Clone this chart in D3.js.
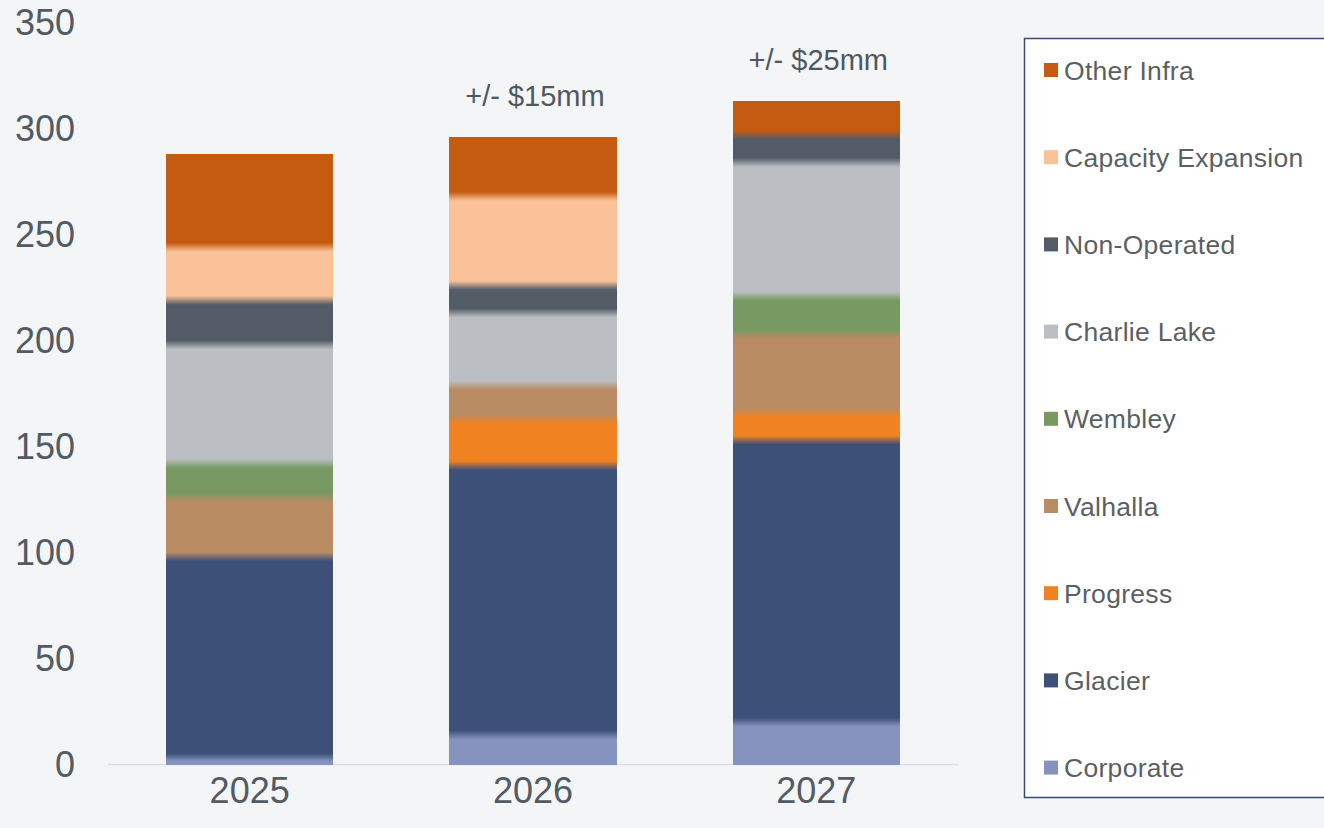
<!DOCTYPE html>
<html>
  <head>
    <meta charset="utf-8">
    <style>
      body { margin: 0; background: #f3f5f7; }
      text { font-family: "Liberation Sans", Arial, sans-serif; }
    </style>
    <script src="https://d3js.org/d3.v7.min.js"></script>
  </head>
  <body>
    <svg></svg>
    <script>
    var years = ["2025", "2026", "2027"];
    var series = ["Corporate", "Glacier", "Progress", "Valhalla", "Wembley",
                  "Charlie Lake", "Non-Operated", "Capacity Expansion", "Other Infra"];
    var colors = ["#8494be", "#3d5078", "#f08222", "#b98c64", "#789a62",
                  "#bbbfc4", "#535c66", "#f9c298", "#c55a11"];
    // values per series, one per year
    var corporate = [3, 14, 20];
    var glacier = [95, 127, 133];
    var progress = [0, 22, 13];
    var valhalla = [28, 16, 37];
    var wembley = [16, 0, 18];
    var charlieLake = [56, 34, 63];
    var nonOperated = [21, 13, 13];
    var capacityExp = [25, 42, 0];
    var otherInfra = [44, 28, 16];
    var notes = ["", "+/- $15mm", "+/- $25mm"];
    var yTicks = [0, 50, 100, 150, 200, 250, 300, 350];

    var values = [corporate, glacier, progress, valhalla, wembley,
                  charlieLake, nonOperated, capacityExp, otherInfra];

    var rows = years.map(function(yr, i) {
        var r = {year: yr};
        series.forEach(function(s, k) { r[s] = values[k][i]; });
        return r;
    });

    var svg = d3.select("svg")
        .attr("width", 1324)
        .attr("height", 828);

    svg.append("rect")
        .attr("width", 1324).attr("height", 828)
        .attr("fill", "#f3f5f7");

    var x = d3.scaleBand()
        .domain(years)
        .range([108, 958])
        .paddingInner(0.41)
        .paddingOuter(0.205);

    var y = d3.scaleLinear()
        .domain([0, 350])
        .range([764.5, 22.5]);

    var color = d3.scaleOrdinal().domain(series).range(colors);

    var stacked = d3.stack().keys(series)(rows);

    // soft blended edges between segments, like the original
    var defs = svg.append("defs");
    years.forEach(function(yr, i) {
        var grad = defs.append("linearGradient")
            .attr("id", "g" + i)
            .attr("gradientUnits", "userSpaceOnUse")
            .attr("x1", 0).attr("x2", 0)
            .attr("y1", y(0)).attr("y2", y(350));
        var blur = 4.5;
        stacked.forEach(function(layer) {
            var d = layer[i];
            if (d[1] - d[0] <= 0) return;
            var a = y(0) - y(d[0]), b = y(0) - y(d[1]);
            var span = y(0) - y(350);
            var c = color(layer.key);
            var lo = Math.min(a + blur, (a + b) / 2), hi = Math.max(b - blur, (a + b) / 2);
            if (d[0] == 0) lo = a;
            grad.append("stop").attr("offset", lo / span).attr("stop-color", c);
            grad.append("stop").attr("offset", hi / span).attr("stop-color", c);
        });
    });

    svg.append("line")
        .attr("x1", 108).attr("x2", 958)
        .attr("y1", y(0)).attr("y2", y(0))
        .attr("stroke", "#d9dde6")
        .attr("stroke-width", 1.5);

    svg.append("g")
        .selectAll("g")
        .data(stacked)
        .enter().append("g")
        .selectAll("rect")
        .data(function(d) { return d; })
        .enter().append("rect")
          .attr("x", function(d) { return x(d.data.year); })
          .attr("width", x.bandwidth())
          .attr("y", function(d) { return y(d[1]); })
          .attr("height", function(d) { return y(d[0]) - y(d[1]); })
          .attr("fill", function(d) { return "url(#g" + years.indexOf(d.data.year) + ")"; })
          .attr("shape-rendering", "crispEdges");

    // y axis labels
    var yAxis = svg.append("g")
        .attr("transform", "translate(75,0)")
        .call(d3.axisLeft(y).tickValues(yTicks).tickSize(0).tickPadding(0));
    yAxis.select(".domain").remove();
    yAxis.selectAll("text")
        .attr("font-size", 36)
        .attr("font-family", "Liberation Sans, Arial, sans-serif")
        .attr("fill", "#525a63");

    // x axis labels
    var xAxis = svg.append("g")
        .attr("transform", "translate(0," + y(0) + ")")
        .call(d3.axisBottom(x).tickSize(0).tickPadding(13));
    xAxis.select(".domain").remove();
    xAxis.selectAll("text")
        .attr("font-size", 36)
        .attr("font-family", "Liberation Sans, Arial, sans-serif")
        .attr("fill", "#525a63");

    // range notes above bars
    svg.append("g")
        .selectAll("text")
        .data(rows)
        .enter().append("text")
          .attr("x", function(d) { return x(d.year) + x.bandwidth() / 2 + 2; })
          .attr("y", function(d) { return y(d3.sum(series, function(s) { return d[s]; })) - 31; })
          .attr("text-anchor", "middle")
          .attr("font-size", 29)
          .attr("fill", "#4f5861")
          .text(function(d, i) { return notes[i]; });

    // legend
    var legend = svg.append("g");
    legend.append("rect")
        .attr("x", 1024.5).attr("y", 38.5)
        .attr("width", 320).attr("height", 759)
        .attr("fill", "#fff")
        .attr("stroke", "#3b4a74")
        .attr("stroke-width", 1.5);

    var item = legend.selectAll("g.item")
        .data(series.slice().reverse())
        .enter().append("g")
          .attr("class", "item")
          .attr("transform", function(d, i) { return "translate(1044," + (70 + i * 87.2) + ")"; });
    item.append("rect")
        .attr("y", -7).attr("width", 14).attr("height", 14)
        .attr("fill", function(d) { return color(d); });
    item.append("text")
        .attr("x", 20).attr("y", 0)
        .attr("dy", "0.36em")
        .attr("font-size", 26.5)
        .attr("letter-spacing", 0.3)
        .attr("fill", "#5b5f64")
        .text(function(d) { return d; });
    </script>
  </body>
</html>
